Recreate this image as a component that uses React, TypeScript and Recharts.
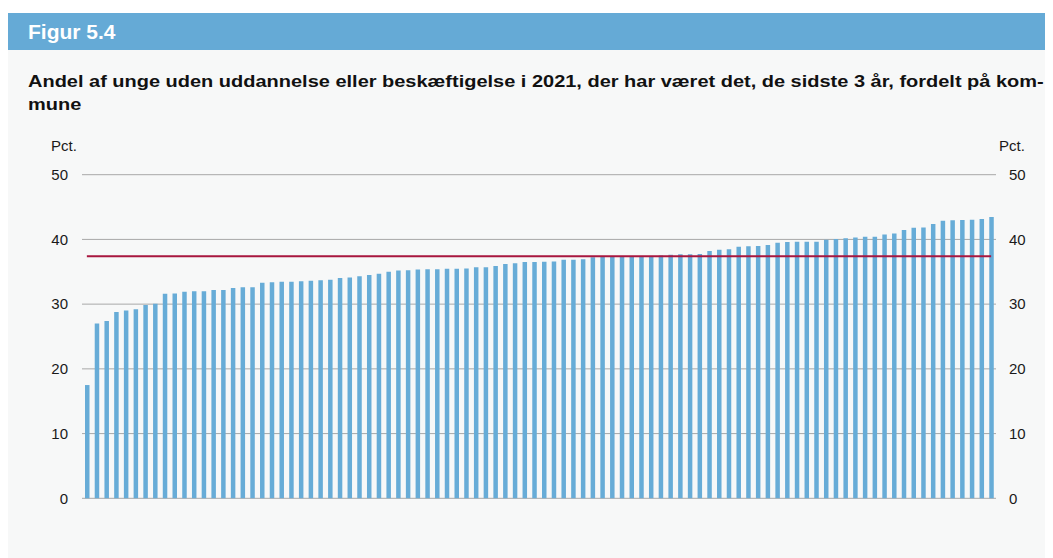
import React from "react";
import { ComposedChart, Bar, Line, XAxis, YAxis, CartesianGrid, ReferenceLine } from "recharts";

// Andel (pct.) pr. kommune, sorteret stigende
const andel = [
  17.5, 27.0, 27.4, 28.8, 29.0, 29.2, 29.85, 30.05, 31.6, 31.65,
  31.9, 32.0, 32.0, 32.2, 32.2, 32.5, 32.6, 32.6, 33.3, 33.4,
  33.45, 33.45, 33.55, 33.6, 33.7, 33.75, 34.05, 34.1, 34.3, 34.5,
  34.7, 35.0, 35.2, 35.25, 35.35, 35.4, 35.4, 35.45, 35.45, 35.5,
  35.7, 35.7, 35.9, 36.2, 36.3, 36.5, 36.5, 36.55, 36.6, 36.85,
  36.85, 36.95, 37.25, 37.3, 37.35, 37.4, 37.4, 37.45, 37.45, 37.5,
  37.65, 37.7, 37.7, 37.75, 38.2, 38.4, 38.5, 38.85, 38.95, 39.0,
  39.15, 39.5, 39.6, 39.65, 39.65, 39.65, 39.95, 40.05, 40.2, 40.3,
  40.4, 40.4, 40.75, 40.9, 41.45, 41.8, 41.85, 42.4, 42.9, 42.95,
  43.0, 43.05, 43.15, 43.45,
];
const landsgennemsnit = 37.4;
const yTicks = [0, 10, 20, 30, 40, 50];

const data = andel.map((v, i) => ({ kommune: String(i + 1), andel: v }));
const first = data[0].kommune;
const last = data[data.length - 1].kommune;

const font = "'Liberation Sans', Arial, Helvetica, sans-serif";
const tickStyle = { fill: "#1a1a1a", fontSize: 15, fontFamily: font };

const App: React.FC = () => {
  return (
    <div
      style={{
        position: "relative",
        marginTop: 5,
        width: 1045,
        height: 545,
        background: "#f7f8f8",
        fontFamily: font,
      }}
    >
      <div
        style={{
          height: 37,
          background: "#65aad6",
          color: "#fff",
          fontWeight: "bold",
          fontSize: 21,
          lineHeight: "37px",
          paddingLeft: 20,
        }}
      >
        Figur 5.4
      </div>
      <div
        style={{
          position: "absolute",
          left: 20,
          top: 57,
          fontWeight: "bold",
          fontSize: 17,
          lineHeight: "23px",
          color: "#111",
          whiteSpace: "nowrap",
          transform: "scaleX(1.175)",
          transformOrigin: "left top",
        }}
      >
        Andel af unge uden uddannelse eller beskæftigelse i 2021, der har været det, de sidste 3 år, fordelt på kom-
        <br />
        mune
      </div>
      <div style={{ position: "absolute", left: 43, top: 124, fontSize: 15, color: "#1a1a1a" }}>Pct.</div>
      <div style={{ position: "absolute", left: 991, top: 124, fontSize: 15, color: "#1a1a1a" }}>Pct.</div>
      <div style={{ position: "absolute", left: 0, top: 147 }}>
        <ComposedChart
          width={1045}
          height={385}
          data={data}
          margin={{ top: 14.7, right: 0, bottom: 46.7, left: 0 }}
          barSize={4.5}
        >
          <CartesianGrid yAxisId="left" vertical={false} stroke="#a8a8a8" />
          <XAxis dataKey="kommune" hide />
          <YAxis
            yAxisId="left"
            orientation="left"
            width={74}
            domain={[0, 50]}
            ticks={yTicks}
            tickLine={false}
            axisLine={false}
            tickMargin={8}
            tick={tickStyle}
          />
          <YAxis
            yAxisId="right"
            orientation="right"
            width={57}
            domain={[0, 50]}
            ticks={yTicks}
            tickLine={false}
            axisLine={false}
            tickMargin={7}
            tick={{ ...tickStyle, textAnchor: "start" }}
          />
          <Bar yAxisId="left" dataKey="andel" fill="#67acd7" isAnimationActive={false} />
          <Line
            yAxisId="right"
            dataKey="andel"
            stroke="none"
            dot={false}
            activeDot={false}
            legendType="none"
            isAnimationActive={false}
          />
          <ReferenceLine
            yAxisId="left"
            segment={[
              { x: first, y: landsgennemsnit },
              { x: last, y: landsgennemsnit },
            ]}
            stroke="#a8173f"
            strokeWidth={2}
          />
        </ComposedChart>
      </div>
    </div>
  );
};

export default App;
